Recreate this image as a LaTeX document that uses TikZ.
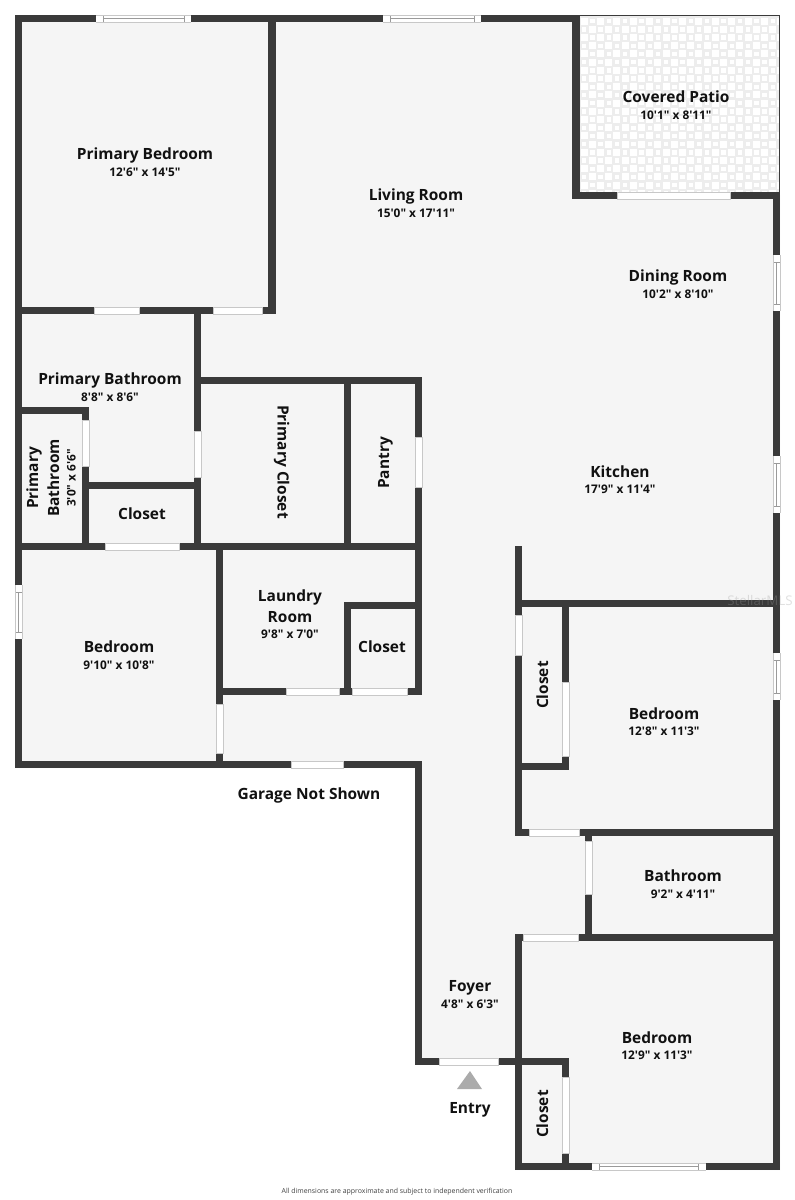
\documentclass[tikz,border=0pt]{standalone}
\usepackage{fontspec}
\setmainfont{Open Sans}[Ligatures=TeXOff]
\definecolor{wallc}{HTML}{3A3A3A}
\definecolor{floorc}{HTML}{F5F5F5}
\definecolor{edgec}{HTML}{C8C8C8}
\definecolor{tilec}{HTML}{EDEDED}
\definecolor{winc}{HTML}{9A9A9A}
\definecolor{txt}{HTML}{111111}
\newcommand{\wl}[4]{\fill[wallc] (#1,#2) rectangle (#3,#4);}
\newcommand{\op}[4]{\filldraw[fill=white,draw=edgec,line width=0.4pt] (#1,#2) rectangle (#3,#4);}
\newcommand{\winh}[6]{\fill[white] (#1,#3) rectangle (#2,#4);\draw[winc,line width=0.5pt] (#5,#3) rectangle (#6,#4);\draw[winc,line width=0.5pt] (#5,{(#3+#4)/2}) -- (#6,{(#3+#4)/2});\draw[edgec,line width=0.4pt] (#1,#3) -- (#2,#3) (#1,#4) -- (#2,#4);}
\newcommand{\winv}[6]{\fill[white] (#3,#1) rectangle (#4,#2);\draw[winc,line width=0.5pt] (#3,#5) rectangle (#4,#6);\draw[winc,line width=0.5pt] ({(#3+#4)/2},#5) -- ({(#3+#4)/2},#6);\draw[edgec,line width=0.4pt] (#3,#1) -- (#3,#2) (#4,#1) -- (#4,#2);}
\tikzset{
  rmf/.style={font=\fontsize{11.6pt}{14pt}\selectfont\bfseries,text=txt,inner sep=0pt,anchor=base},
  dmf/.style={font=\fontsize{8.9pt}{10pt}\selectfont\bfseries,text=txt,inner sep=0pt,anchor=base},
  rm/.style={rmf,yshift=-4.4pt},
  dm/.style={dmf,yshift=-3.6pt},
}
\begin{document}
\begin{tikzpicture}[x=0.75pt,y=-0.75pt]
\useasboundingbox (0,0) rectangle (795,1200);
\fill[white] (0,0) rectangle (795,1200);
% floor
\fill[floorc] (15,15) -- (580,15) -- (580,195) -- (780,195) -- (780,1170) -- (515,1170) -- (515,1062) -- (415,1062) -- (415,768) -- (15,768) -- cycle;
% patio tile
\fill[tilec] (579,15) rectangle (779,192);
\begin{scope}
\clip (579,15) rectangle (779,192);
\foreach \i in {0,...,24}{\foreach \j in {0,...,22}{
  \pgfmathsetmacro{\xx}{580+\i*8.2+4.1}
  \pgfmathsetmacro{\yy}{17+\j*8.2+4.1}
  \pgfmathtruncatemacro{\tileodd}{mod(\i+\j,2)}
  \ifnum\tileodd=0
    \fill[white] (\xx-3.5,\yy-3.5) rectangle (\xx+3.5,\yy+3.5);
  \else
    \fill[white] (\xx-2.2,\yy-2.2) rectangle (\xx+2.2,\yy+2.2);
  \fi
}}
\end{scope}
\draw[wallc,line width=0.7pt] (576,15.3) -- (779.3,15.3) -- (779.3,192);
% walls
\wl{15}{15}{580}{22}
\wl{15}{15}{22}{768}
\wl{268}{15}{276}{314}
\wl{15}{307}{276}{314}
\wl{572}{15}{580}{199}
\wl{572}{192}{780}{199}
\wl{773}{192}{780}{1170}
\wl{194}{307}{201}{550}
\wl{194}{377}{422}{384}
\wl{344}{377}{351}{550}
\wl{415}{377}{422}{695}
\wl{15}{543}{422}{550}
\wl{82}{407}{89}{550}
\wl{15}{407}{89}{414}
\wl{82}{482}{201}{489}
\wl{216}{543}{223}{768}
\wl{216}{688}{422}{695}
\wl{344}{602}{422}{609}
\wl{344}{602}{351}{695}
\wl{15}{761}{422}{768}
\wl{415}{761}{422}{1065}
\wl{515}{546}{522}{836}
\wl{515}{600}{780}{607}
\wl{562}{600}{569}{770}
\wl{515}{763}{569}{770}
\wl{515}{829}{780}{836}
\wl{585}{829}{592}{941}
\wl{515}{934}{780}{941}
\wl{515}{934}{522}{1170}
\wl{415}{1058}{569}{1065}
\wl{562}{1058}{569}{1170}
\wl{515}{1163}{780}{1170}
% openings
\op{94}{307}{139}{314}
\op{213}{307}{262}{314}
\op{617}{192}{730}{199}
\op{194}{431}{201}{477}
\op{415}{437}{422}{487}
\op{105}{543}{179}{550}
\op{82}{420}{89}{466}
\op{216}{704}{223}{753}
\op{286}{688}{339}{695}
\op{352}{688}{407}{695}
\op{291}{761}{343}{768}
\op{515}{615}{522}{655}
\op{562}{682}{569}{756}
\op{529}{829}{579}{836}
\op{585}{841}{592}{894}
\op{523}{934}{578}{941}
\op{439}{1058}{498}{1065}
\op{562}{1077}{569}{1153}
% windows
\winh{96}{191}{15}{22}{103}{184}
\winh{383}{481}{15}{22}{390}{474}
\winh{592}{706}{1163}{1170}{599}{698}
\winv{255}{311}{773}{780}{262}{304}
\winv{456}{513}{773}{780}{463}{506}
\winv{653}{700}{773}{780}{660}{693}
\winv{585}{639}{15}{22}{592}{632}
% entry triangle
\fill[black!33] (457,1089) -- (482,1089) -- (470,1071) -- cycle;
% watermark
\node[font=\fontsize{10pt}{12pt}\selectfont,text=black!40,text opacity=0.3,inner sep=0pt] (wm) at (760,600) {StellarMLS};
% labels
\node[rm] (n1) at (145,154) {Primary Bedroom};
\node[dm] (d1) at (145,172) {12'6" x 14'5"};
\node[rm] (n2) at (416,195) {Living Room};
\node[dm] (d2) at (416,213) {15'0" x 17'11"};
\node[rm] (n3) at (676,97) {Covered Patio};
\node[dm] (d3) at (676,115) {10'1" x 8'11"};
\node[rm] (n4) at (678,276) {Dining Room};
\node[dm] (d4) at (678,294) {10'2" x 8'10"};
\node[rm] (n5) at (620,471.5) {Kitchen};
\node[dm] (d5) at (620,489) {17'9" x 11'4"};
\node[rm] (n6) at (110,379) {Primary Bathroom};
\node[dm] (d6) at (110,397) {8'8" x 8'6"};
\node[rmf,rotate=90] (n7) at (38,478) {Primary};
\node[rmf,rotate=90] (n7b) at (59,478) {Bathroom};
\node[dmf,rotate=90] (d7) at (75.5,478) {3'0" x 6'6"};
\node[rm] (n8) at (142,514) {Closet};
\node[rmf,rotate=-90] (n9) at (277.5,462) {Primary Closet};
\node[rmf,rotate=90] (n10) at (389,463) {Pantry};
\node[rm] (n11) at (290,596) {Laundry};
\node[rm] (n12) at (290,617) {Room};
\node[dm] (d12) at (290,634) {9'8" x 7'0"};
\node[rm] (n13) at (382,647) {Closet};
\node[rm] (n14) at (119,647) {Bedroom};
\node[dm] (d14) at (119,665) {9'10" x 10'8"};
\node[rm] (n15) at (309,793.5) {Garage Not Shown};
\node[rmf,rotate=90] (n16) at (548,685) {Closet};
\node[rm] (n17) at (664,713.5) {Bedroom};
\node[dm] (d17) at (664,731) {12'8" x 11'3"};
\node[rm] (n18) at (683,876) {Bathroom};
\node[dm] (d18) at (683,894) {9'2" x 4'11"};
\node[rm] (n19) at (470,986) {Foyer};
\node[dm] (d19) at (470,1004) {4'8" x 6'3"};
\node[rm] (n20) at (657,1037.5) {Bedroom};
\node[dm] (d20) at (657,1055) {12'9" x 11'3"};
\node[rm] (n21) at (470,1108) {Entry};
\node[rmf,rotate=90] (n22) at (548,1114) {Closet};
\node[font=\fontsize{5.2pt}{6pt}\selectfont,text=black!75,inner sep=0pt] (ft) at (397,1192) {All dimensions are approximate and subject to independent verification};
\end{tikzpicture}
\end{document}
